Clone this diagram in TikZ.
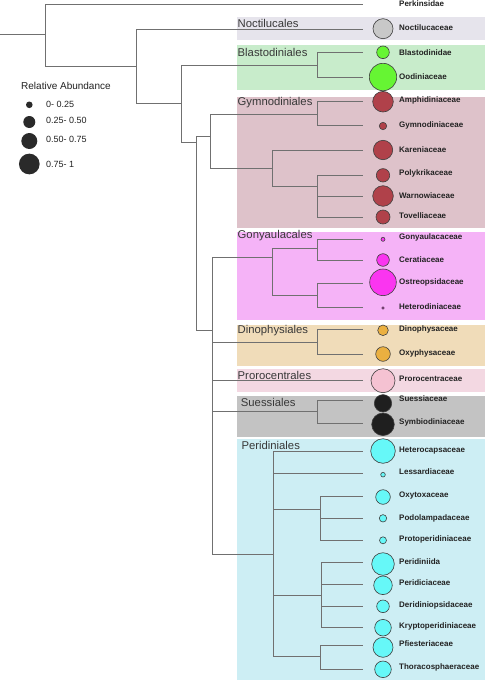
\documentclass[tikz,border=0pt]{standalone}
\usepackage{fontspec}
\setmainfont{Liberation Sans}
\definecolor{bxNoct}{HTML}{E6E4EC}
\definecolor{bxBlast}{HTML}{C8ECCB}
\definecolor{bxGym}{HTML}{DEC2CA}
\definecolor{bxGony}{HTML}{F5B3F7}
\definecolor{bxDino}{HTML}{F0DCB9}
\definecolor{bxProro}{HTML}{F3D8E2}
\definecolor{bxSuess}{HTML}{C3C3C3}
\definecolor{bxPeri}{HTML}{CDEEF4}
\definecolor{fNoct}{HTML}{C8C8C8}
\definecolor{fBlast}{HTML}{66F533}
\definecolor{fGym}{HTML}{B0414A}
\definecolor{fGony}{HTML}{FA35F0}
\definecolor{fDino}{HTML}{EBB040}
\definecolor{fProro}{HTML}{F5C2D2}
\definecolor{fSuess}{HTML}{1F1F1F}
\definecolor{fPeri}{HTML}{66F8F8}
\definecolor{fLeg}{HTML}{2A2A2A}
\definecolor{branchc}{HTML}{707070}
\definecolor{txt}{HTML}{222222}
\begin{document}
\begin{tikzpicture}[x=1pt,y=-1pt,
  branch/.style={draw=branchc,line width=0.75pt},
  cladebox/.style={draw=none,inner sep=0pt},
  grouplabel/.style={anchor=west,inner sep=0pt,text=txt!90,font=\fontsize{11.3}{12}\selectfont},
  leaflabel/.style={anchor=west,inner sep=0pt,text=txt,font=\fontsize{8}{9}\selectfont\bfseries},
  dot/.style={circle,draw=black!75,line width=0.6pt,inner sep=0pt},
  legdot/.style={circle,fill=fLeg,draw=none,inner sep=0pt},
  legtext/.style={anchor=west,inner sep=0pt,text=txt,font=\fontsize{9}{10}\selectfont}]
\useasboundingbox (0,0) rectangle (486,680);
\fill[white] (0,0) rectangle (486,680);
% clade boxes
\fill[bxNoct]  (237,17)    rectangle (485,40);
\fill[bxBlast] (237,45)    rectangle (485,90);
\fill[bxGym]   (237,97)    rectangle (485,228.3);
\fill[bxGony]  (237,231.7) rectangle (485,320);
\fill[bxDino]  (237,325)   rectangle (485,365.7);
\fill[bxProro] (237,369)   rectangle (485,392.3);
\fill[bxSuess] (237,395.7) rectangle (485,437.3);
\fill[bxPeri]  (237,439.3) rectangle (485,679.5);
% group labels
\node[grouplabel] (g-noct)  at (237.5,23)    {Noctilucales};
\node[grouplabel] (g-blast) at (237.5,52.3)  {Blastodiniales};
\node[grouplabel] (g-gym)   at (237.5,102.7) {Gymnodiniales};
\node[grouplabel] (g-gony)  at (237.5,235.7) {Gonyaulacales};
\node[grouplabel] (g-dino)  at (237.5,331)   {Dinophysiales};
\node[grouplabel] (g-proro) at (237.5,375)   {Prorocentrales};
\node[grouplabel] (g-suess) at (240.7,402.3) {Suessiales};
\node[grouplabel] (g-peri)  at (241.3,445.7) {Peridiniales};
% leaves: name/tip y/circle y/radius/colour/label y/text
\foreach \n/\ty/\cy/\r/\c/\ly/\t in {
  perk/4.3/4.3/0/white/4/Perkinsidae,
  noct/29/28.7/10/fNoct/28/Noctilucaceae,
  blastd/52.3/52.3/6.3/fBlast/52.3/Blastodinidae,
  ood/77.3/77/13.7/fBlast/76.7/Oodiniaceae,
  amph/101.7/101.7/10.3/fGym/100/Amphidiniaceae,
  gymn/125.7/126/3.7/fGym/125/Gymnodiniaceae,
  kar/150/150/9.7/fGym/149.3/Kareniaceae,
  poly/175/175.3/6.7/fGym/173.3/Polykrikaceae,
  warn/196/196/10.3/fGym/195.7/Warnowiaceae,
  tov/217/217/7/fGym/216/Tovelliaceae,
  gonyc/239/239.3/2/fGony/237.3/Gonyaulacaceae,
  cer/260/260/6.3/fGony/259.3/Ceratiaceae,
  ostr/283/282.3/13.3/fGony/282/Ostreopsidaceae,
  hetd/307.7/308/1.3/fGony/306.3/Heterodiniaceae,
  dinc/329.3/330.3/5.3/fDino/329/Dinophysaceae,
  oxyp/354/354/7.3/fDino/353/Oxyphysaceae,
  proc/380.7/380.7/12/fProro/378.7/Prorocentraceae,
  suec/400/403.3/8.7/fSuess/398.7/Suessiaceae,
  symb/423.3/424.3/11.3/fSuess/422.7/Symbiodiniaceae,
  hetc/451/451/12.3/fPeri/451/Heterocapsaceae,
  less/473.3/474.7/2.3/fPeri/471.3/Lessardiaceae,
  oxyt/496.7/497/7.3/fPeri/496/Oxytoxaceae,
  podo/518.3/518.3/3.7/fPeri/518.3/Podolampadaceae,
  prot/540.7/540.3/3.5/fPeri/539/Protoperidiniaceae,
  peri/562.7/564/11.3/fPeri/562/Peridiniida,
  peric/584.3/585.3/9.3/fPeri/583/Peridiciaceae,
  deri/606/606.3/6.3/fPeri/605/Deridiniopsidaceae,
  kryp/627.3/627.7/8.3/fPeri/626/Kryptoperidiniaceae,
  pfie/645.7/647.3/10/fPeri/644/Pfiesteriaceae,
  thor/669.3/669.3/8.3/fPeri/667.7/Thoracosphaeraceae}{
  \coordinate (t-\n) at (363,\ty);
  \node[leaflabel] (l-\n) at (399,\ly) {\t};
}
% internal nodes
\coordinate (start) at (0,34.7);
\coordinate (R)  at (45.7,34.7);
\coordinate (N1) at (136.7,66);
\coordinate (N2) at (181.7,103);
\coordinate (Bl) at (317.7,65);
\coordinate (N3) at (196,142.3);
\coordinate (Gy) at (210,136.7);
\coordinate (G1) at (317.7,114);
\coordinate (G2) at (272.7,168.7);
\coordinate (G3) at (317.7,186.7);
\coordinate (N4) at (212.3,330.7);
\coordinate (Go) at (272.7,257.7);
\coordinate (Go1) at (317.7,248.3);
\coordinate (Go2) at (317.7,295.3);
\coordinate (Di) at (317.7,342);
\coordinate (Su) at (317.7,411.7);
\coordinate (Pe) at (273.3,554);
\coordinate (P1) at (320,509.3);
\coordinate (P2) at (321,595);
\coordinate (P3) at (320,656.7);
% branches
\draw[branch] (start) -- (R);
\draw[branch] (R) |- (t-perk);
\draw[branch] (R) |- (N1);
\draw[branch] (N1) |- (t-noct);
\draw[branch] (N1) |- (N2);
\draw[branch] (N2) |- (Bl);
\draw[branch] (Bl) |- (t-blastd);
\draw[branch] (Bl) |- (t-ood);
\draw[branch] (N2) |- (N3);
\draw[branch] (N3) |- (Gy);
\draw[branch] (Gy) |- (G1);
\draw[branch] (G1) |- (t-amph);
\draw[branch] (G1) |- (t-gymn);
\draw[branch] (Gy) |- (G2);
\draw[branch] (G2) |- (t-kar);
\draw[branch] (G2) |- (G3);
\draw[branch] (G3) |- (t-poly);
\draw[branch] (G3) |- (t-warn);
\draw[branch] (G3) |- (t-tov);
\draw[branch] (N3) |- (N4);
\draw[branch] (N4) |- (Go);
\draw[branch] (Go) |- (Go1);
\draw[branch] (Go1) |- (t-gonyc);
\draw[branch] (Go1) |- (t-cer);
\draw[branch] (Go) |- (Go2);
\draw[branch] (Go2) |- (t-ostr);
\draw[branch] (Go2) |- (t-hetd);
\draw[branch] (N4) |- (Di);
\draw[branch] (Di) |- (t-dinc);
\draw[branch] (Di) |- (t-oxyp);
\draw[branch] (N4) |- (t-proc);
\draw[branch] (N4) |- (Su);
\draw[branch] (Su) |- (t-suec);
\draw[branch] (Su) |- (t-symb);
\draw[branch] (N4) |- (Pe);
\draw[branch] (Pe) |- (t-hetc);
\draw[branch] (Pe) |- (t-less);
\draw[branch] (Pe) |- (P1);
\draw[branch] (P1) |- (t-oxyt);
\draw[branch] (P1) |- (t-podo);
\draw[branch] (P1) |- (t-prot);
\draw[branch] (Pe) |- (P2);
\draw[branch] (P2) |- (t-peri);
\draw[branch] (P2) |- (t-peric);
\draw[branch] (P2) |- (t-deri);
\draw[branch] (P2) |- (t-kryp);
\draw[branch] (Pe) |- (P3);
\draw[branch] (P3) |- (t-pfie);
\draw[branch] (P3) |- (t-thor);
% abundance circles
\foreach \n/\cy/\r/\c in {
  noct/28.7/10/fNoct, blastd/52.3/6.3/fBlast, ood/77/13.7/fBlast,
  amph/101.7/10.3/fGym, gymn/126/3.7/fGym, kar/150/9.7/fGym,
  poly/175.3/6.7/fGym, warn/196/10.3/fGym, tov/217/7/fGym,
  gonyc/239.3/2/fGony, cer/260/6.3/fGony, ostr/282.3/13.3/fGony, hetd/308/1.3/fGony,
  dinc/330.3/5.3/fDino, oxyp/354/7.3/fDino, proc/380.7/12/fProro,
  suec/403.3/8.7/fSuess, symb/424.3/11.3/fSuess,
  hetc/451/12.3/fPeri, less/474.7/2.3/fPeri, oxyt/497/7.3/fPeri,
  podo/518.3/3.7/fPeri, prot/540.3/3.5/fPeri, peri/564/11.3/fPeri,
  peric/585.3/9.3/fPeri, deri/606.3/6.3/fPeri, kryp/627.7/8.3/fPeri,
  pfie/647.3/10/fPeri, thor/669.3/8.3/fPeri}{
  \node[dot,fill=\c,minimum size=2*\r pt] (c-\n) at (383,\cy) {};
}
% legend
\node[anchor=west,inner sep=0pt,text=txt,font=\fontsize{10}{11}\selectfont] (legtitle) at (21,85.7) {Relative Abundance};
\node[legdot,minimum size=6.6pt] (ld1) at (29.3,104.8) {};
\node[legtext] (lt1) at (46,104.3) {0- 0.25};
\node[legdot,minimum size=12pt] (ld2) at (29.3,122) {};
\node[legtext] (lt2) at (46,120) {0.25- 0.50};
\node[legdot,minimum size=16pt] (ld3) at (29.3,141) {};
\node[legtext] (lt3) at (46,139.3) {0.50- 0.75};
\node[legdot,minimum size=20.7pt] (ld4) at (29.3,164) {};
\node[legtext] (lt4) at (46,164.3) {0.75- 1};
\end{tikzpicture}
\end{document}
